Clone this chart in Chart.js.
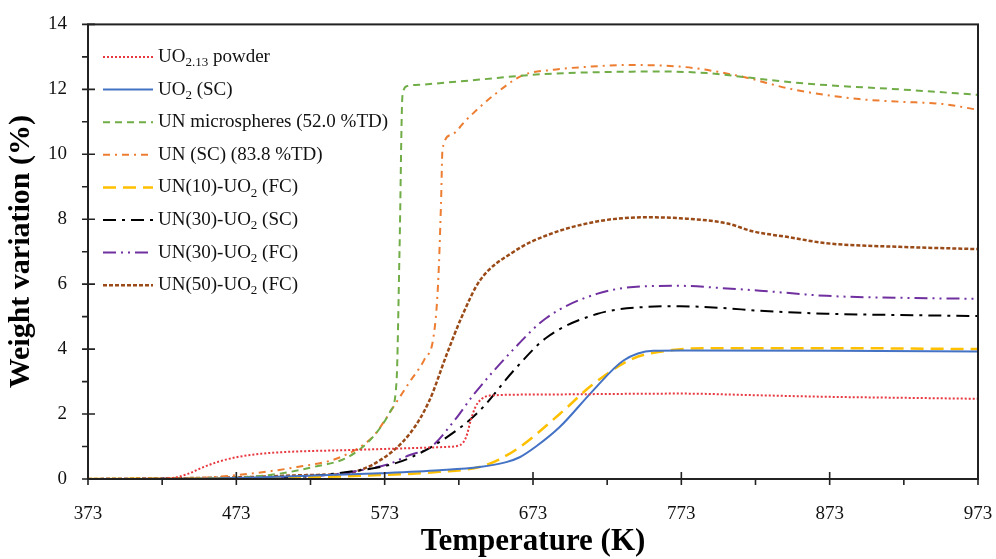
<!DOCTYPE html>
<html>
<head>
<meta charset="utf-8">
<script src="https://cdn.jsdelivr.net/npm/chart.js@4/dist/chart.umd.min.js"></script>
<style>
  body { margin: 0; background: #fff; }
  #wrap { width: 996px; height: 559px; position: relative; }
</style>
</head>
<body>
<div id="wrap"><canvas id="tga"></canvas></div>
<script>
// temperature ticks (K) and weight ticks (%)
const xTicks = [373, 473, 573, 673, 773, 873, 973];
const yTicks = [0, 2, 4, 6, 8, 10, 12, 14];

// legend labels, _{..} marks a subscript
const labels = [
  "UO_{2.13} powder",
  "UO_{2} (SC)",
  "UN microspheres (52.0 %TD)",
  "UN (SC) (83.8 %TD)",
  "UN(10)-UO_{2} (FC)",
  "UN(30)-UO_{2} (SC)",
  "UN(30)-UO_{2} (FC)",
  "UN(50)-UO_{2} (FC)"
];

// temperature (K) / weight variation (%)
const tPowder = [373, 420, 430, 440, 450, 460, 473, 490, 510, 548, 590, 615, 624, 628, 631, 634, 638, 644, 673, 773, 823, 873, 923, 973];
const wPowder = [0, 0, 0.03, 0.15, 0.35, 0.52, 0.67, 0.78, 0.84, 0.89, 0.95, 0.99, 1.05, 1.3, 1.8, 2.2, 2.45, 2.57, 2.6, 2.63, 2.58, 2.53, 2.5, 2.47];

const tUO2 = [373, 450, 473, 500, 540, 570, 610, 637, 655, 664, 675, 691, 713, 734, 754, 773, 873, 973];
const wUO2 = [0, 0.01, 0.03, 0.07, 0.13, 0.18, 0.27, 0.37, 0.52, 0.67, 1.0, 1.6, 2.7, 3.65, 3.95, 3.96, 3.95, 3.93];

const tMicro = [373, 450, 480, 500, 525, 548, 565, 577, 581, 583, 585, 588, 600, 637, 680, 720, 760, 790, 815, 840, 871, 920, 973];
const wMicro = [0, 0.01, 0.06, 0.15, 0.37, 0.67, 1.29, 2.1, 3.0, 7.0, 11.8, 12.1, 12.15, 12.3, 12.47, 12.53, 12.55, 12.5, 12.38, 12.25, 12.13, 12.0, 11.83];

const tUNsc = [373, 440, 473, 514, 543, 565, 573, 580, 590, 600, 606, 609, 611, 612, 618, 628, 646, 666, 686, 705, 740, 772, 790, 815, 848, 893, 920, 949, 973];
const wUNsc = [0, 0.02, 0.12, 0.37, 0.67, 1.3, 1.8, 2.3, 3.0, 3.7, 4.4, 6.0, 8.5, 10.17, 10.6, 11.06, 11.8, 12.43, 12.6, 12.68, 12.75, 12.7, 12.6, 12.38, 12.0, 11.7, 11.62, 11.55, 11.37];

const tUN10 = [373, 473, 520, 570, 610, 637, 650, 664, 691, 713, 740, 767, 790, 873, 973];
const wUN10 = [0, 0.02, 0.05, 0.12, 0.22, 0.37, 0.6, 0.98, 2.0, 2.9, 3.7, 3.97, 4.03, 4.03, 4.0];

const tUN30sc = [373, 473, 520, 558, 575, 590, 615, 637, 660, 682, 716, 750, 772, 800, 826, 871, 920, 973];
const wUN30sc = [0, 0.02, 0.08, 0.28, 0.42, 0.65, 1.29, 2.1, 3.34, 4.35, 5.08, 5.3, 5.32, 5.27, 5.18, 5.09, 5.05, 5.02];

const tUN30fc = [373, 473, 520, 540, 558, 575, 590, 604, 620, 633, 660, 682, 716, 750, 772, 800, 826, 871, 920, 973];
const wUN30fc = [0, 0.02, 0.08, 0.15, 0.28, 0.45, 0.74, 0.98, 1.8, 2.6, 4.0, 4.96, 5.7, 5.94, 5.95, 5.88, 5.8, 5.64, 5.58, 5.55];

const tUN50 = [373, 473, 520, 548, 570, 590, 603, 615, 625, 637, 660, 682, 716, 750, 772, 804, 821, 845, 871, 920, 973];
const wUN50 = [0, 0.05, 0.12, 0.18, 0.58, 1.4, 2.4, 3.86, 5.0, 6.1, 7.0, 7.5, 7.93, 8.06, 8.03, 7.87, 7.63, 7.45, 7.26, 7.15, 7.08];

const serif = "'Liberation Serif', 'Times New Roman', serif";

function pts(ts, ws) {
  return ts.map((t, i) => ({ x: t, y: ws[i] }));
}

function series(i, ts, ws, color, dash, width) {
  return {
    label: labels[i],
    data: pts(ts, ws),
    borderColor: color,
    borderDash: dash,
    borderWidth: width,
    pointRadius: 0,
    fill: false,
    cubicInterpolationMode: "monotone"
  };
}

// draws text where _{..} parts are set as subscripts
function richText(ctx, str, x, y, size) {
  const parts = str.split(/(_\{[^}]*\})/);
  parts.forEach(p => {
    if (!p) return;
    if (p.startsWith("_{")) {
      const s = p.slice(2, -1);
      ctx.font = Math.round(size * 0.68) + "px " + serif;
      ctx.fillText(s, x, y + size * 0.3);
      x += ctx.measureText(s).width;
    } else {
      ctx.font = size + "px " + serif;
      ctx.fillText(p, x, y);
      x += ctx.measureText(p).width;
    }
  });
}

const frame = {
  id: "frame",
  afterDatasetsDraw(chart) {
    const { ctx, chartArea: a, scales } = chart;
    const xs = scales.x, ys = scales.y;
    ctx.save();
    ctx.strokeStyle = "#222";
    ctx.lineWidth = 2;
    ctx.setLineDash([]);
    ctx.strokeRect(a.left, a.top, a.right - a.left, a.bottom - a.top);
    ctx.lineWidth = 1.6;
    ctx.beginPath();
    xTicks.forEach(v => {
      const px = xs.getPixelForValue(v);
      ctx.moveTo(px, a.bottom - 7);
      ctx.lineTo(px, a.bottom + 6);
      if (v + 50 < xs.max) {
        const mx = xs.getPixelForValue(v + 50);
        ctx.moveTo(mx, a.bottom);
        ctx.lineTo(mx, a.bottom + 6);
      }
    });
    yTicks.forEach(v => {
      const py = ys.getPixelForValue(v);
      ctx.moveTo(a.left - 6, py);
      ctx.lineTo(a.left + 7, py);
      if (v + 1 < ys.max) {
        const my = ys.getPixelForValue(v + 1);
        ctx.moveTo(a.left - 6, my);
        ctx.lineTo(a.left, my);
      }
    });
    ctx.stroke();
    ctx.restore();
  },
  afterDraw(chart) {
    const { ctx, chartArea: a } = chart;
    ctx.save();
    ctx.textBaseline = "middle";
    ctx.fillStyle = "#111";
    chart.data.datasets.forEach((ds, i) => {
      const y = 57 + i * 32.6;
      const x0 = a.left + 15;
      ctx.strokeStyle = ds.borderColor;
      ctx.lineWidth = ds.borderWidth;
      ctx.setLineDash(ds.borderDash);
      ctx.beginPath();
      ctx.moveTo(x0, y);
      ctx.lineTo(x0 + 50, y);
      ctx.stroke();
      richText(ctx, ds.label, x0 + 55, y, 19);
    });
    ctx.restore();
  }
};

new Chart(document.getElementById("tga"), {
  type: "line",
  data: {
    datasets: [
      series(0, tPowder, wPowder, "#e8373f", [2, 2], 2),
      series(1, tUO2, wUO2, "#4472c4", [], 2),
      series(2, tMicro, wMicro, "#70ad47", [7, 5], 2),
      series(3, tUNsc, wUNsc, "#ed7d31", [7, 5, 2, 5], 2),
      series(4, tUN10, wUN10, "#ffc000", [13, 7], 2.5),
      series(5, tUN30sc, wUN30sc, "#000000", [13, 6, 3, 6], 2),
      series(6, tUN30fc, wUN30fc, "#7030a0", [13, 5, 2, 5, 2, 5], 2),
      series(7, tUN50, wUN50, "#9a4a17", [4, 2], 2.5)
    ]
  },
  options: {
    responsive: true,
    maintainAspectRatio: false,
    animation: false,
    layout: { padding: { top: 23, right: 18, left: 0, bottom: 0 } },
    plugins: { legend: { display: false }, tooltip: { enabled: false } },
    scales: {
      x: {
        type: "linear",
        min: 373,
        max: 973,
        afterBuildTicks: s => { s.ticks = xTicks.map(v => ({ value: v })); },
        afterFit: s => { s.height = 80; s.paddingLeft = 0; s.paddingRight = 0; },
        grid: { display: false },
        border: { display: false },
        ticks: {
          padding: 16,
          maxRotation: 0,
          color: "#111",
          font: { family: serif, size: 19 }
        },
        title: {
          display: true,
          text: "Temperature (K)",
          color: "#000",
          padding: { top: 0, bottom: 0 },
          font: { family: serif, size: 31, weight: "bold", lineHeight: 1.1 }
        }
      },
      y: {
        min: 0,
        max: 14,
        afterBuildTicks: s => { s.ticks = yTicks.map(v => ({ value: v })); },
        afterFit: s => { s.width = 88; },
        grid: { display: false },
        border: { display: false },
        ticks: {
          padding: 13,
          color: "#111",
          font: { family: serif, size: 19 }
        },
        title: {
          display: true,
          text: "Weight variation (%)",
          color: "#000",
          padding: { top: 5, bottom: 0 },
          font: { family: serif, size: 30, weight: "bold", lineHeight: 1.1 }
        }
      }
    }
  },
  plugins: [frame]
});
</script>
</body>
</html>
